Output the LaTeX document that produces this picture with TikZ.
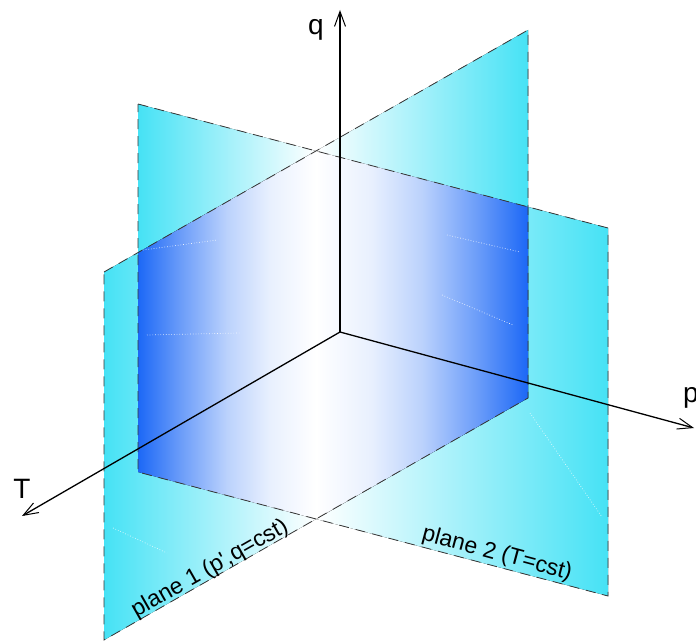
\documentclass[tikz,border=0pt]{standalone}
\usepackage{fontspec}
\setmainfont{Liberation Sans}
\usetikzlibrary{arrows.meta}
\definecolor{cyanP}{RGB}{70,226,245}
\definecolor{blueP}{RGB}{28,104,246}
\definecolor{edgeP}{RGB}{55,55,55}
\pgfdeclarehorizontalshading{ovL}{100bp}{color(0bp)=(blueP); color(25bp)=(blueP); color(37bp)=(blueP!65!white); color(50bp)=(blueP!30!white); color(62bp)=(blueP!10!white); color(75bp)=(white); color(100bp)=(white)}
\pgfdeclarehorizontalshading{ovR}{100bp}{color(0bp)=(white); color(25bp)=(white); color(38bp)=(blueP!10!white); color(50bp)=(blueP!30!white); color(63bp)=(blueP!65!white); color(75bp)=(blueP); color(100bp)=(blueP)}
\begin{document}
\begin{tikzpicture}[x=1pt,y=-1pt,
  planeedge/.style={draw=edgeP, line width=0.8pt, dash pattern=on 10pt off 7pt},
  axisline/.style={draw=black, line width=1.3pt, -{Straight Barb[length=15pt,width=11pt,line width=1pt]}},
  axislabel/.style={font=\fontsize{28}{28}\selectfont, inner sep=0pt},
  planelabel/.style={font=\fontsize{23}{23}\selectfont, inner sep=0pt},
  mesh/.style={draw=white, line width=0.7pt, dotted, opacity=0.85}]
\useasboundingbox (0,0) rectangle (696,642);
% intersection line of the two planes
\coordinate (Ptop) at (316,151);
\coordinate (Pbot) at (316,519);
% plane 2 (T = cst)
\coordinate (A1) at (138,104);
\coordinate (A2) at (608,228);
\coordinate (A3) at (608,596);
\coordinate (A4) at (138,472);
% plane 1
\coordinate (B1) at (104,272);
\coordinate (B2) at (528,30);
\coordinate (B3) at (528,398);
\coordinate (B4) at (104,640);
% overlap corners
\coordinate (OL1) at (138,252.6);
\coordinate (OR1) at (528,206.9);
% axes
\coordinate (O) at (340,332);
\coordinate (qTip) at (340,10);
\coordinate (TTip) at (22,516);
\coordinate (pTip) at (694,428);

% plane fills
\fill[left color=cyanP, right color=white] (A1) -- (Ptop) -- (Pbot) -- (A4) -- cycle;
\fill[left color=white, right color=cyanP] (Ptop) -- (A2) -- (A3) -- (Pbot) -- cycle;
\fill[left color=cyanP, right color=white] (B1) -- (Ptop) -- (Pbot) -- (B4) -- cycle;
\fill[left color=white, right color=cyanP] (Ptop) -- (B2) -- (B3) -- (Pbot) -- cycle;
% overlap
\fill[shading=ovL] (OL1) -- (Ptop) -- (Pbot) -- (A4) -- cycle;
\fill[shading=ovR] (Ptop) -- (OR1) -- (B3) -- (Pbot) -- cycle;

% faint mesh traces
\draw[mesh] (143,250) -- (217,240);
\draw[mesh] (147,335) -- (240,333);
\draw[mesh] (447,235) -- (520,252);
\draw[mesh] (442,295) -- (513,325);
\draw[mesh] (530,413) -- (602,517);
\draw[mesh] (113,528) -- (167,553);

% plane edges
\draw[planeedge] (A1) -- (A2) -- (A3) -- (A4) -- cycle;
\draw[planeedge] (B1) -- (B2) -- (B3) -- (B4) -- cycle;

% axes
\draw[axisline] (O) -- (qTip);
\draw[axisline] (O) -- (TTip);
\draw[axisline] (O) -- (pTip);
\node[axislabel] (qlab) at (316,30) {q};
\node[axislabel] (Tlab) at (22,489) {T};
\node[axislabel] (plab) at (691,398) {p};

% plane labels
\node[planelabel, rotate=29.7] (lab1) at (210,569) {plane 1 (p\textquotesingle,q=cst)};
\node[planelabel, rotate=-15] (lab2) at (497,554) {plane 2 (T=cst)};
\end{tikzpicture}
\end{document}
